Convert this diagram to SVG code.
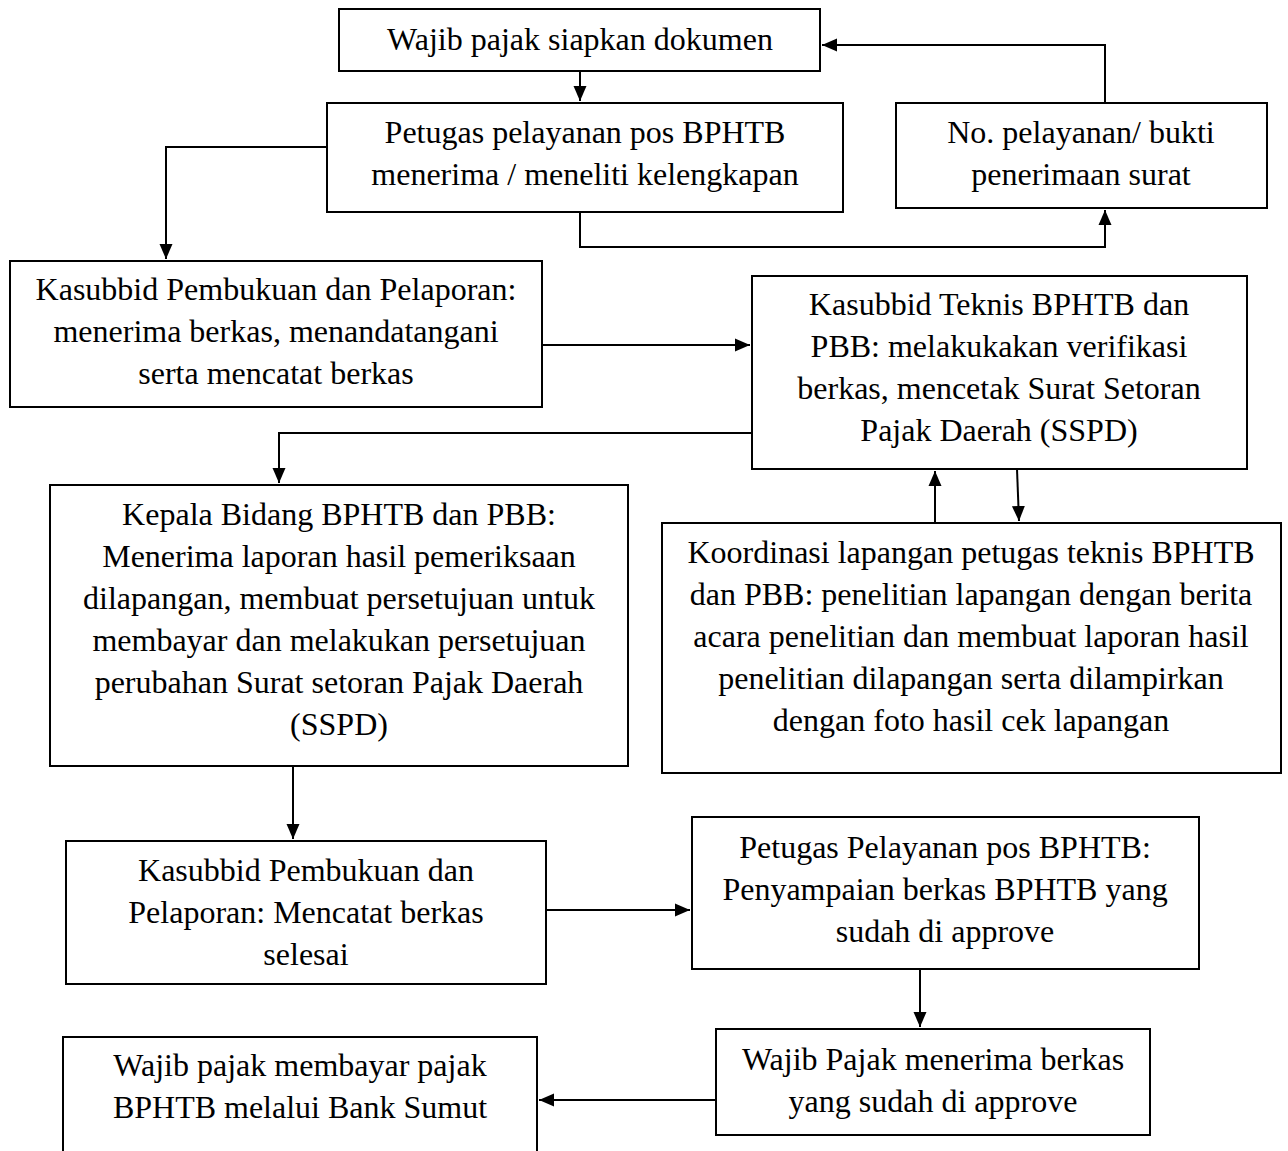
<svg xmlns="http://www.w3.org/2000/svg" width="1288" height="1151" viewBox="0 0 1288 1151">
<style>
.box{fill:#fff;stroke:#000;stroke-width:2}
.t{font-family:"Liberation Serif","Times New Roman",serif;font-size:32px;fill:#000;text-anchor:middle}
.c{fill:none;stroke:#000;stroke-width:2}
</style>
<defs>
<marker id="ah" markerUnits="userSpaceOnUse" markerWidth="16" markerHeight="14" refX="15" refY="7" orient="auto">
<path d="M0,0.5 L15,7 L0,13.5 z" fill="#000"/>
</marker>
</defs>
<rect width="1288" height="1151" fill="#fff"/>
<g id="connectors">
<path class="c" d="M580,71 V101" marker-end="url(#ah)"/>
<path class="c" d="M1105,103 V45 H822" marker-end="url(#ah)"/>
<path class="c" d="M580,212 V247 H1105 V210" marker-end="url(#ah)"/>
<path class="c" d="M327,147 H166 V259" marker-end="url(#ah)"/>
<path class="c" d="M542,345 H750" marker-end="url(#ah)"/>
<path class="c" d="M752,433 H279 V483" marker-end="url(#ah)"/>
<path class="c" d="M935,523 V471" marker-end="url(#ah)"/>
<path class="c" d="M1017,469 L1019,521" marker-end="url(#ah)"/>
<path class="c" d="M293,766 V839" marker-end="url(#ah)"/>
<path class="c" d="M546,910 H690" marker-end="url(#ah)"/>
<path class="c" d="M920,969 V1027" marker-end="url(#ah)"/>
<path class="c" d="M716,1100 H539" marker-end="url(#ah)"/>
</g>
<g id="n1"><rect class="box" x="339" y="9" width="481" height="62"/>
<text class="t" x="580" y="50">Wajib pajak siapkan dokumen</text></g>
<g id="n2"><rect class="box" x="327" y="103" width="516" height="109"/>
<text class="t" x="585" y="143">Petugas pelayanan pos BPHTB</text>
<text class="t" x="585" y="185">menerima / meneliti kelengkapan</text></g>
<g id="n3"><rect class="box" x="896" y="103" width="371" height="105"/>
<text class="t" x="1081" y="143">No. pelayanan/ bukti</text>
<text class="t" x="1081" y="185">penerimaan surat</text></g>
<g id="n4"><rect class="box" x="10" y="261" width="532" height="146"/>
<text class="t" x="276" y="300">Kasubbid Pembukuan dan Pelaporan:</text>
<text class="t" x="276" y="342">menerima berkas, menandatangani</text>
<text class="t" x="276" y="384">serta mencatat berkas</text></g>
<g id="n5"><rect class="box" x="752" y="276" width="495" height="193"/>
<text class="t" x="999" y="315">Kasubbid Teknis BPHTB dan</text>
<text class="t" x="999" y="357">PBB: melakukakan verifikasi</text>
<text class="t" x="999" y="399">berkas, mencetak Surat Setoran</text>
<text class="t" x="999" y="441">Pajak Daerah (SSPD)</text></g>
<g id="n6"><rect class="box" x="50" y="485" width="578" height="281"/>
<text class="t" x="339" y="525">Kepala Bidang BPHTB dan PBB:</text>
<text class="t" x="339" y="567">Menerima laporan hasil pemeriksaan</text>
<text class="t" x="339" y="609">dilapangan, membuat persetujuan untuk</text>
<text class="t" x="339" y="651">membayar dan melakukan persetujuan</text>
<text class="t" x="339" y="693">perubahan Surat setoran Pajak Daerah</text>
<text class="t" x="339" y="735">(SSPD)</text></g>
<g id="n7"><rect class="box" x="662" y="523" width="619" height="250"/>
<text class="t" x="971" y="563">Koordinasi lapangan petugas teknis BPHTB</text>
<text class="t" x="971" y="605">dan PBB: penelitian lapangan dengan berita</text>
<text class="t" x="971" y="647">acara penelitian dan membuat laporan hasil</text>
<text class="t" x="971" y="689">penelitian dilapangan serta dilampirkan</text>
<text class="t" x="971" y="731">dengan foto hasil cek lapangan</text></g>
<g id="n8"><rect class="box" x="66" y="841" width="480" height="143"/>
<text class="t" x="306" y="881">Kasubbid Pembukuan dan</text>
<text class="t" x="306" y="923">Pelaporan: Mencatat berkas</text>
<text class="t" x="306" y="965">selesai</text></g>
<g id="n9"><rect class="box" x="692" y="817" width="507" height="152"/>
<text class="t" x="945" y="858">Petugas Pelayanan pos BPHTB:</text>
<text class="t" x="945" y="900">Penyampaian berkas BPHTB yang</text>
<text class="t" x="945" y="942">sudah di approve</text></g>
<g id="n10"><rect class="box" x="716" y="1029" width="434" height="106"/>
<text class="t" x="933" y="1070">Wajib Pajak menerima berkas</text>
<text class="t" x="933" y="1112">yang sudah di approve</text></g>
<g id="n11"><rect class="box" x="63" y="1037" width="474" height="130"/>
<text class="t" x="300" y="1076">Wajib pajak membayar pajak</text>
<text class="t" x="300" y="1118">BPHTB melalui Bank Sumut</text></g>
</svg>
